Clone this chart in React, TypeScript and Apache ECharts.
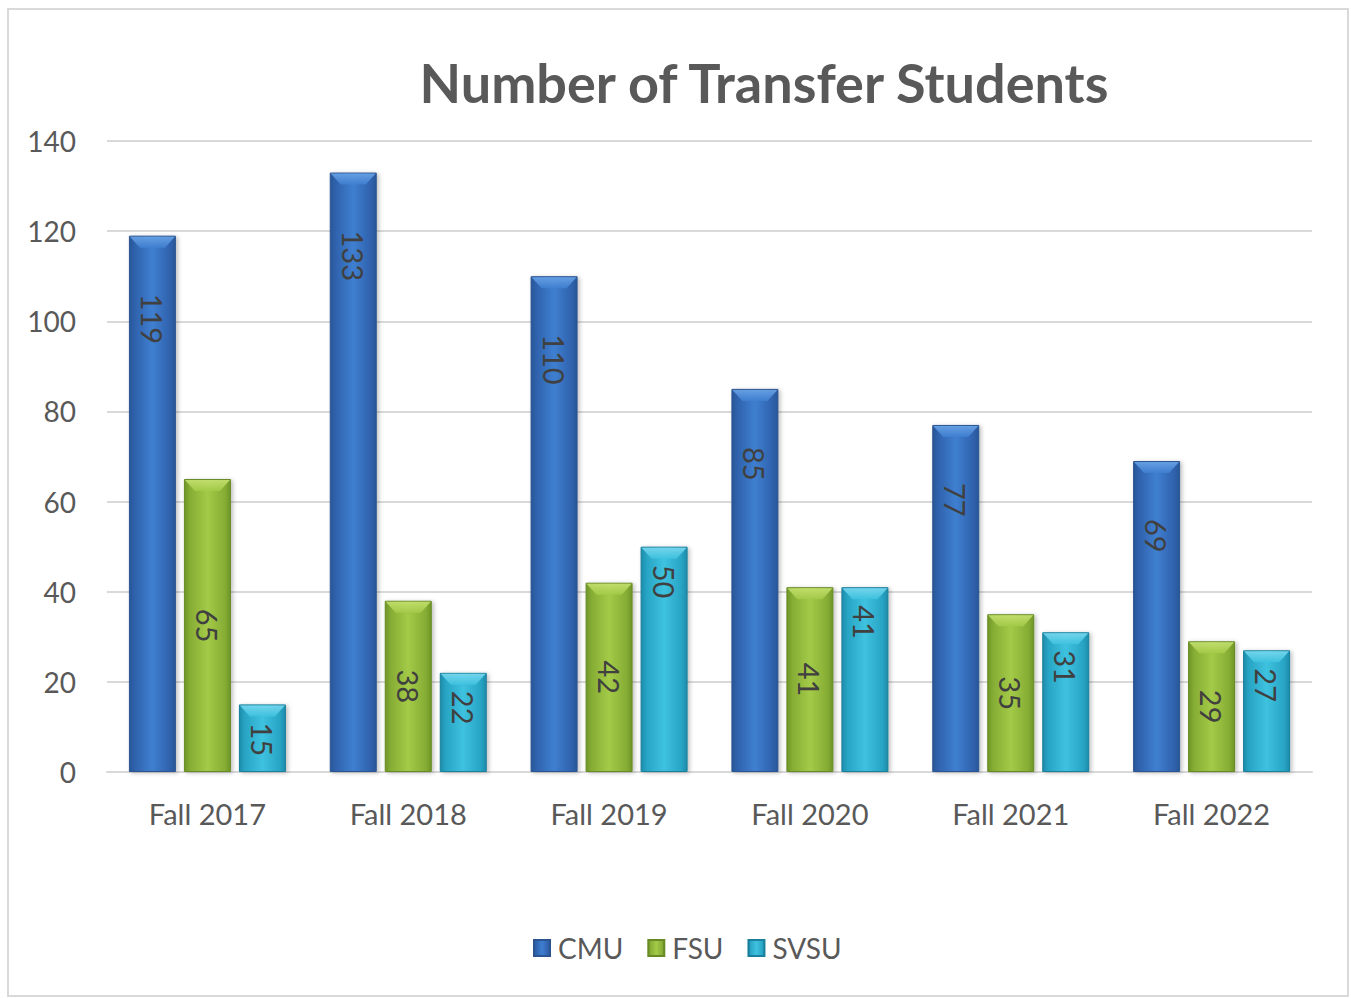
import React, { useEffect, useRef } from "react";
import * as echarts from "echarts";

const categories = ["Fall 2017", "Fall 2018", "Fall 2019", "Fall 2020", "Fall 2021", "Fall 2022"];
const seriesNames = ["CMU", "FSU", "SVSU"];
const cmuValues = [119, 133, 110, 85, 77, 69];
const fsuValues = [65, 38, 42, 41, 35, 29];
const svsuValues = [15, 22, 50, 41, 31, 27];
const yTicks = { min: 0, max: 140, interval: 20 };

const FONT = "Lato, 'Noto Sans', sans-serif";
const BAR_W = 47;
const BAR_GAP = 8;

const palettes = [
  { dark: "#2a5698", mid: "#3f7fd0", edge: "#2f62ad", light: "#6aa3e6", border: "#2b5590" },
  { dark: "#6f9628", mid: "#a4ca48", edge: "#86ad34", light: "#c4e070", border: "#678a25" },
  { dark: "#1d8cab", mid: "#3ec2df", edge: "#28a4c4", light: "#7ad8ee", border: "#1a7f9c" },
];

function barGradient(p: any) {
  return new echarts.graphic.LinearGradient(0, 0, 1, 0, [
    { offset: 0, color: p.dark },
    { offset: 0.12, color: p.edge },
    { offset: 0.5, color: p.mid },
    { offset: 0.88, color: p.edge },
    { offset: 1, color: p.dark },
  ]);
}

export default function App() {
  const ref = useRef<HTMLDivElement>(null);
  useEffect(() => {
    if (!ref.current) return;
    const chart = echarts.init(ref.current, undefined, { renderer: "svg" });
    const values = [cmuValues, fsuValues, svsuValues];

    const barSeries = values.map((vals, i) => {
      const p = palettes[i];
      const label: any =
        i === 0
          ? { position: "insideTop", distance: 58 }
          : i === 1
          ? { position: "inside" }
          : { position: "insideTop", distance: 18 };
      return {
        name: seriesNames[i],
        type: "bar",
        data: vals,
        barWidth: BAR_W,
        barGap: (BAR_GAP / BAR_W) * 100 + "%",
        z: 2,
        itemStyle: {
          color: barGradient(p),
          borderColor: p.border,
          borderWidth: 1,
          shadowColor: "rgba(0,0,0,0.25)",
          shadowBlur: 4,
          shadowOffsetX: 2,
          shadowOffsetY: 1,
        },
        label: {
          show: true,
          rotate: -90,
          align: i === 1 ? "center" : "left",
          verticalAlign: "middle",
          color: "#404040",
          fontFamily: FONT,
          fontSize: 29,
          ...label,
        },
      };
    });

    const bevelSeries = values.map((vals, i) => {
      const p = palettes[i];
      const offset = (i - 1) * (BAR_W + BAR_GAP);
      return {
        name: seriesNames[i] + "-bevel",
        type: "custom",
        z: 3,
        silent: true,
        data: vals.map((v, idx) => [idx, v]),
        renderItem: (params: any, api: any) => {
          const pt = api.coord([api.value(0), api.value(1)]);
          const x0 = pt[0] + offset - BAR_W / 2 + 1;
          const x1 = pt[0] + offset + BAR_W / 2 - 1;
          const top = pt[1] + 1;
          const h = 11;
          const inset = 10;
          return {
            type: "group",
            children: [
              {
                type: "polygon",
                shape: {
                  points: [
                    [x0, top],
                    [x1, top],
                    [x1 - inset, top + h],
                    [x0 + inset, top + h],
                  ],
                },
                style: {
                  fill: new echarts.graphic.LinearGradient(0, 0, 0, 1, [
                    { offset: 0, color: p.light },
                    { offset: 1, color: p.mid },
                  ]),
                  opacity: 0.9,
                },
              },
            ],
          };
        },
      };
    });

    chart.setOption({
      animation: false,
      backgroundColor: "#ffffff",
      title: {
        text: "Number of Transfer Students",
        left: 759,
        textAlign: "center",
        top: 50,
        textStyle: { fontFamily: FONT, fontSize: 54, fontWeight: "bold", color: "#595959" },
      },
      graphic: [
        {
          type: "rect",
          shape: { x: 8, y: 9, width: 1340, height: 987 },
          style: { fill: "none", stroke: "#d9d9d9", lineWidth: 2 },
          silent: true,
        },
      ],
      legend: {
        data: seriesNames,
        left: 528,
        top: 929,
        itemWidth: 16,
        itemHeight: 16,
        itemGap: 24,
        icon: "rect",
        textStyle: { fontFamily: FONT, fontSize: 28, color: "#595959", padding: [0, 0, 0, 3] },
      },
      grid: { left: 107, right: 39, top: 141, bottom: 226, containLabel: false },
      xAxis: {
        type: "category",
        data: categories,
        axisTick: { show: false },
        axisLine: { lineStyle: { color: "#d9d9d9", width: 2 } },
        axisLabel: { fontFamily: FONT, fontSize: 29, color: "#595959", margin: 27 },
      },
      yAxis: {
        type: "value",
        min: yTicks.min,
        max: yTicks.max,
        interval: yTicks.interval,
        axisLine: { show: false },
        axisTick: { show: false },
        splitLine: { lineStyle: { color: "#d9d9d9", width: 2 } },
        axisLabel: { fontFamily: FONT, fontSize: 28, color: "#595959", margin: 31 },
      },
      series: [...barSeries, ...bevelSeries],
    });
    return () => chart.dispose();
  }, []);
  return (
    <div
      ref={ref}
      style={{ position: "fixed", left: 0, top: 0, width: 1351, height: 998 }}
    />
  );
}
